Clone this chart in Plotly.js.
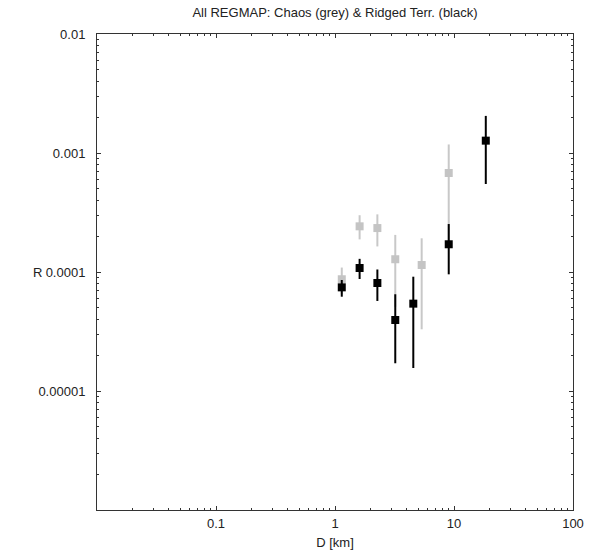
<!DOCTYPE html>
<html>
<head>
<meta charset="utf-8">
<script src="https://cdn.plot.ly/plotly-3.0.1.min.js"></script>
<style>html,body{margin:0;padding:0;background:#fff;}#chart{width:595px;height:555px;}</style>
</head>
<body>
<div id="chart"></div>
<script>
// Ridged terrain (black)
const ridgedD     = [1.14, 1.61, 2.27, 3.21, 4.55, 9.03, 18.5];
const ridgedR     = [7.43e-5, 1.08e-4, 8.08e-5, 3.95e-5, 5.42e-5, 1.71e-4, 1.27e-3];
const ridgedUpper = [8.57e-5, 1.29e-4, 1.05e-4, 6.5e-5, 9.13e-5, 2.53e-4, 2.05e-3];
const ridgedLower = [6.2e-5, 8.73e-5, 5.71e-5, 1.71e-5, 1.56e-5, 9.56e-5, 5.49e-4];
// Chaos (grey)
const chaosD      = [1.14, 1.61, 2.27, 3.21, 5.35, 9.03];
const chaosR      = [8.69e-5, 2.42e-4, 2.34e-4, 1.28e-4, 1.145e-4, 6.79e-4];
const chaosUpper  = [1.09e-4, 3.0e-4, 3.05e-4, 2.05e-4, 1.92e-4, 1.18e-3];
const chaosLower  = [6.5e-5, 1.88e-4, 1.64e-4, 5.1e-5, 3.3e-5, 1.75e-4];
// Tick labels
const xTickVals = [0.01, 0.1, 1, 10, 100];
const xTickText = ['', '0.1', '1', '10', '100'];
const yTickVals = [1e-6, 1e-5, 1e-4, 1e-3, 1e-2];
const yTickText = ['', '0.00001', '0.0001', '0.001', '0.01'];

function minorVals(lo, hi) {
  const out = [];
  for (let e = lo; e < hi; e++) for (let m = 2; m <= 9; m++) out.push(m * Math.pow(10, e));
  return out;
}
const diff = (a, b) => a.map((v, i) => v - b[i]);

const traces = [
  {
    type: 'scatter', mode: 'markers', name: 'Chaos',
    x: chaosD, y: chaosR,
    marker: {symbol: 'square', size: 8, color: '#c4c4c4'},
    error_y: {type: 'data', symmetric: false, array: diff(chaosUpper, chaosR), arrayminus: diff(chaosR, chaosLower),
              color: '#c8c8c8', thickness: 2, width: 0},
    hoverinfo: 'x+y'
  },
  {
    type: 'scatter', mode: 'markers', name: 'Ridged Terr.',
    x: ridgedD, y: ridgedR,
    marker: {symbol: 'square', size: 8, color: '#000000'},
    error_y: {type: 'data', symmetric: false, array: diff(ridgedUpper, ridgedR), arrayminus: diff(ridgedR, ridgedLower),
              color: '#000000', thickness: 2, width: 0},
    hoverinfo: 'x+y'
  }
];

const font = {family: '"Liberation Sans", Arial, sans-serif', size: 13, color: '#222'};

const layout = {
  width: 595, height: 555,
  margin: {l: 97, r: 22, t: 34, b: 45},
  paper_bgcolor: '#fff', plot_bgcolor: '#fff',
  showlegend: false,
  font: font,
  title: {text: 'All REGMAP: Chaos (grey) &amp; Ridged Terr. (black)', font: {family: font.family, size: 13, color: '#222'},
          x: 0.5, xref: 'paper', y: 1 - 12 / 555, yref: 'container', yanchor: 'middle'},
  xaxis: {
    type: 'log', range: [-2, 2], showgrid: false, zeroline: false,
    showline: true, linecolor: '#333', linewidth: 1, mirror: 'allticks',
    ticks: 'inside', ticklen: 4, tickcolor: '#333', tickwidth: 1,
    tickmode: 'array', tickvals: xTickVals, ticktext: xTickText,
    tickfont: font, ticklabelstandoff: 1,
    minor: {ticks: 'inside', ticklen: 2, tickcolor: '#333', tickmode: 'array', tickvals: minorVals(-2, 2), showgrid: false},
    title: {text: 'D [km]', font: font, standoff: 8},
    automargin: false
  },
  yaxis: {
    type: 'log', range: [-6, -2], showgrid: false, zeroline: false,
    showline: true, linecolor: '#333', linewidth: 1, mirror: 'allticks',
    ticks: 'inside', ticklen: 4, tickcolor: '#333', tickwidth: 1,
    tickmode: 'array', tickvals: yTickVals, ticktext: yTickText,
    tickfont: font, ticklabelstandoff: 8,
    minor: {ticks: 'inside', ticklen: 2, tickcolor: '#333', tickmode: 'array', tickvals: minorVals(-6, -2), showgrid: false},
    automargin: false
  },
  annotations: [
    {text: 'R', xref: 'paper', yref: 'paper', x: -(97 - 37) / 476, y: (510 - 272) / 476,
     xanchor: 'center', yanchor: 'middle', showarrow: false, font: font}
  ]
};

Plotly.newPlot('chart', traces, layout, {displayModeBar: false, staticPlot: true});
</script>
</body>
</html>
